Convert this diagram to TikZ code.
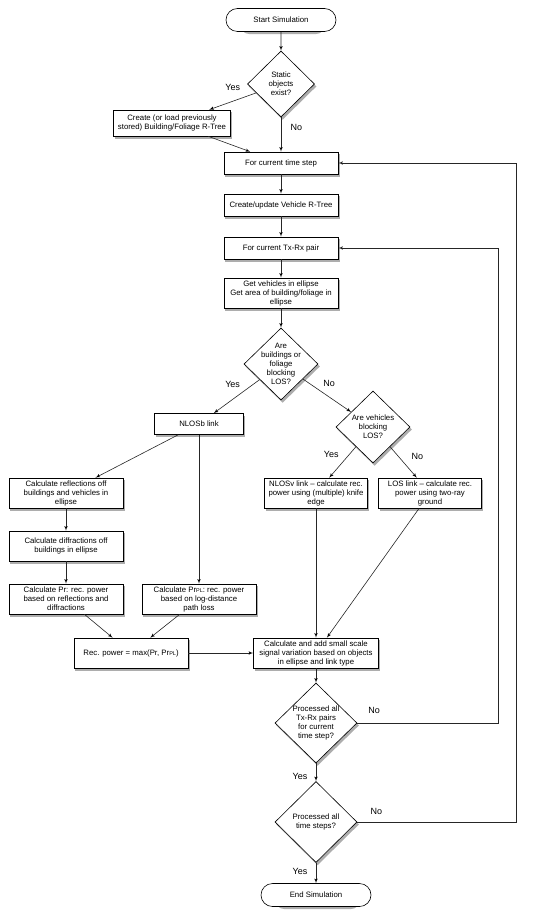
\documentclass[tikz,border=0pt]{standalone}
\usepackage{fontspec}
\setsansfont{Liberation Sans}
\usepackage{tikz}
\usetikzlibrary{positioning}
\usetikzlibrary{arrows}
\usetikzlibrary{shapes.geometric,shapes.misc,backgrounds}
\tikzset{edge/.style = {->,> = latex', line width=0.6pt, draw=black!85}}
\newcommand{\boxfont}{\sffamily\fontsize{7.8}{9}\selectfont}
\newcommand{\labelfont}{\sffamily\fontsize{9}{10}\selectfont}
\newcommand{\sub}[1]{{\fontsize{5.5}{9}\selectfont #1}}

\begin{document}
\begin{tikzpicture}[x=1pt,y=-1pt,auto,node distance=43pt,
  main node/.style={rectangle,draw,fill=white,line width=0.6pt,font=\boxfont,align=center,inner sep=2pt,minimum width=114pt,minimum height=22pt},
  end node/.style={main node,rounded rectangle,minimum height=23pt},
  test node/.style={main node,diamond,inner sep=-14pt,minimum width=74pt,minimum height=72pt},
  shadow shift/.style={xshift=1.6pt,yshift=-2.4pt},
  shadow fill/.style={fill=black!32}]
  \useasboundingbox (0,0) rectangle (543,920);

  \node[end node] (1) at (281,20) {Start Simulation};
  \node[test node, node distance=64pt, minimum width=67pt, minimum height=66pt] (2) [below of=1] {Static\\objects\\exist?};
  \node[main node, minimum width=117pt, minimum height=26pt] (3) at (172,123) {Create (or load previously\\stored) Building/Foliage R-Tree};
  \node[main node, node distance=79pt] (4) [below of=2] {For current time step};
  \node[main node, node distance=42pt] (5) [below of=4] {Create/update Vehicle R-Tree};
  \node[main node] (6) [below of=5] {For current Tx-Rx pair};
  \node[main node, node distance=45pt, minimum height=30pt] (7) [below of=6] {Get vehicles in ellipse\\Get area of building/foliage in\\ellipse};
  \node[test node, node distance=71pt] (8) [below of=7] {Are\\buildings or\\foliage\\blocking\\LOS?};
  \node[main node, minimum width=89pt, minimum height=21pt] (9) at (199,424) {NLOSb link};
  \node[test node] (10) at (373,427) {Are vehicles\\blocking\\LOS?};
  \node[main node, minimum height=30pt] (11) at (66,493) {Calculate reflections off\\buildings and vehicles in\\ellipse};
  \node[main node, node distance=53pt, minimum height=30pt] (12) [below of=11] {Calculate diffractions off\\buildings in ellipse};
  \node[main node, node distance=53pt, minimum height=30pt] (13) [below of=12] {Calculate Pr: rec. power\\based on reflections and\\diffractions};
  \node[main node, node distance=133pt, minimum height=30pt] (14) [right of=13] {Calculate Pr\sub{PL}: rec. power\\based on log-distance\\path loss};
  \node[main node, minimum height=30pt] (15) at (131,653) {Rec. power = max(Pr, Pr\sub{PL})};
  \node[main node, minimum width=103pt, minimum height=30pt] (16) at (316,493) {NLOSv link -- calculate rec.\\power using (multiple) knife\\edge};
  \node[main node, node distance=114pt, minimum width=103pt, minimum height=30pt] (17) [right of=16] {LOS link -- calculate rec.\\power using two-ray\\ground};
  \node[main node, minimum width=125pt, minimum height=30pt] (18) at (316,653) {Calculate and add small scale\\signal variation based on objects\\in ellipse and link type};
  \node[test node, node distance=70pt, minimum width=82pt, minimum height=80pt] (19) [below of=18] {Processed all\\Tx-Rx pairs\\for current\\time step?};
  \node[test node, node distance=99pt, minimum width=82pt, minimum height=81pt] (20) [below of=19] {Processed all\\time steps?};
  \node[end node, node distance=73pt] (21) [below of=20] {End Simulation};
  \coordinate (22) at ([xshift=182pt]19.center);
  \coordinate (23) at ([xshift=200pt]20.center);

  \begin{scope}[on background layer]
    \foreach \n in {3,4,5,6,7,9,11,12,13,14,15,16,17,18}
      \path[shadow fill] ([shadow shift]\n.north west) rectangle ([shadow shift]\n.south east);
    \foreach \n in {2,8,10,19,20}
      \path[shadow fill] ([shadow shift]\n.north) -- ([shadow shift]\n.east) -- ([shadow shift]\n.south) -- ([shadow shift]\n.west) -- cycle;
    \foreach \n in {1,21}
      \path[shadow fill, rounded corners=11pt] ([shadow shift]\n.north west) rectangle ([shadow shift]\n.south east);
  \end{scope}

  \path[edge, every node/.style={font=\labelfont}]
    (1) edge (2)
    (2) edge node [above=7pt] {Yes} (3)
    (2) edge node [right=6pt, pos=0.3] {No} (4)
    (3) edge (4)
    (4) edge (5)
    (5) edge (6)
    (6) edge (7)
    (7) edge (8)
    (8) edge node [above left, pos=0.35] {Yes} (9)
    (8) edge node [above right, pos=0.35] {No} (10)
    (9) edge (11)
    (9) edge (14)
    (11) edge (12)
    (12) edge (13)
    (13) edge (15)
    (14) edge (15)
    (15) edge (18)
    (10) edge node [left=7pt, pos=0.25] {Yes} (16)
    (10) edge node [right=10pt, pos=0.3] {No} (17)
    (16) edge (18)
    (17) edge (18)
    (18) edge (19)
    (19) edge node [left=5pt, pos=0.72] {Yes} (20)
    (20) edge node [left=5pt, pos=0.43] {Yes} (21)
    ;
  \draw[edge] (19) -- node[font=\labelfont, above=5.5pt, pos=0.12] {No} (22) |- (6);
  \draw[edge] (20) -- node[font=\labelfont, above=3.5pt, pos=0.12] {No} (23) |- (4);
\end{tikzpicture}
\end{document}
